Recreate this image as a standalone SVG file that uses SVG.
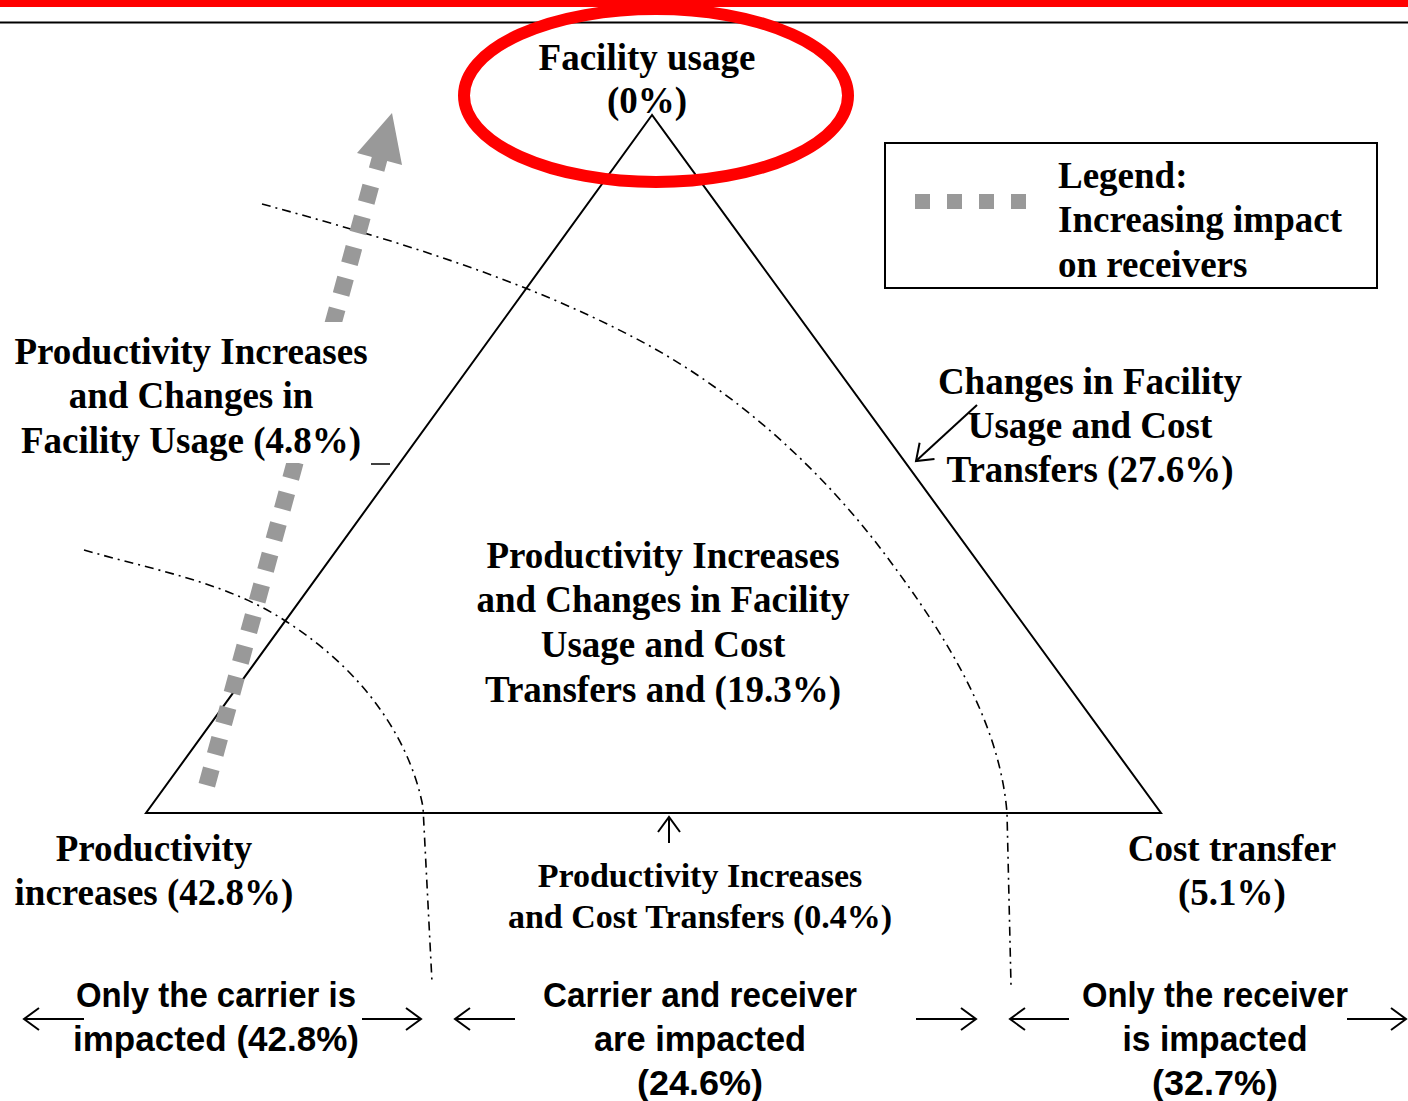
<svg xmlns="http://www.w3.org/2000/svg" width="1408" height="1101" viewBox="0 0 1408 1101">
<style>
.t{font-family:"Liberation Serif","Times New Roman",serif;font-weight:bold;font-size:37px;fill:#000;text-anchor:middle}
.tl{text-anchor:start}
.s{font-size:34px}
.b{font-family:"Liberation Sans",Arial,sans-serif;font-weight:bold;font-size:35px;fill:#000;text-anchor:middle}
.ln{stroke:#000;stroke-width:2;fill:none}
.dd{stroke:#000;stroke-width:1.6;fill:none;stroke-dasharray:9 5 2 5}
.ar{stroke:#000;stroke-width:2;fill:none;marker-end:url(#open)}
.gray{fill:#999}
</style>
<defs>
<marker id="open" markerUnits="userSpaceOnUse" markerWidth="24" markerHeight="28" refX="18" refY="14" orient="auto" overflow="visible">
<path d="M3,3 L18,14 L3,25" fill="none" stroke="#000" stroke-width="2"/>
</marker>
</defs>
<rect width="1408" height="1101" fill="#fff"/>
<rect x="0" y="0" width="1408" height="7" fill="#ff0000"/>
<line x1="0" y1="22.5" x2="1408" y2="22.5" stroke="#000" stroke-width="2"/>

<g id="triangle">
<polygon points="652,115 146,813 1161,813" class="ln"/>
</g>

<g id="boundaries">
<path class="dd" d="M262,204 C387,238 518,277 633,337 C732,388 820,467 887,557 C943,632 999.5,719 1007,813 L1011,985"/>
<path class="dd" d="M84,550 C153,570 227,582 287,622 C365,672 410,740 423,807 L432,982"/>
</g>

<g id="impact-arrow">
<line x1="206.8" y1="785.2" x2="370.8" y2="185.7" stroke="#999" stroke-width="17" stroke-dasharray="17 14.8"/>
<polygon class="gray" points="392,113 402,165 387.2,161.1 384.3,171.7 368.9,167.5 371.8,156.9 357,153"/>
</g>

<g id="facility-usage">
<text class="t" x="647" y="70">Facility usage</text>
<text class="t" x="647" y="113">(0%)</text>
<ellipse cx="656" cy="95.5" rx="192" ry="86.5" fill="none" stroke="#ff0000" stroke-width="12"/>
</g>

<g id="legend">
<rect x="885" y="143" width="492" height="145" fill="#fff" stroke="#000" stroke-width="2"/>
<rect class="gray" x="915" y="194" width="15" height="15"/>
<rect class="gray" x="947" y="194" width="15" height="15"/>
<rect class="gray" x="979" y="194" width="15" height="15"/>
<rect class="gray" x="1011" y="194" width="15" height="15"/>
<text class="t tl" x="1058" y="188">Legend:</text>
<text class="t tl" x="1058" y="232">Increasing impact</text>
<text class="t tl" x="1058" y="277">on receivers</text>
</g>

<g id="prod-facility">
<rect x="6" y="322" width="368" height="141" fill="#fff"/>
<text class="t" x="191" y="364">Productivity Increases</text>
<text class="t" x="191" y="408">and Changes in</text>
<text class="t" x="191" y="453">Facility Usage (4.8%)</text>
<line x1="371" y1="464" x2="390" y2="464" stroke="#000" stroke-width="1.5"/>
</g>

<g id="facility-cost">
<text class="t" x="1090" y="394">Changes in Facility</text>
<text class="t" x="1090" y="438">Usage and Cost</text>
<text class="t" x="1090" y="482">Transfers (27.6%)</text>
</g>

<g id="all-three">
<text class="t" x="663" y="568">Productivity Increases</text>
<text class="t" x="663" y="612">and Changes in Facility</text>
<text class="t" x="663" y="657">Usage and Cost</text>
<text class="t" x="663" y="702">Transfers and (19.3%)</text>
</g>

<g id="productivity">
<text class="t" x="154" y="861">Productivity</text>
<text class="t" x="154" y="905">increases (42.8%)</text>
</g>

<g id="cost-transfer">
<text class="t" x="1232" y="861">Cost transfer</text>
<text class="t" x="1232" y="905">(5.1%)</text>
</g>

<g id="prod-cost">
<text class="t s" x="700" y="887">Productivity Increases</text>
<text class="t s" x="700" y="928">and Cost Transfers (0.4%)</text>
</g>

<g id="carrier-only">
<text class="b" x="216" y="1007" textLength="280" lengthAdjust="spacingAndGlyphs">Only the carrier is</text>
<text class="b" x="216" y="1051" textLength="286" lengthAdjust="spacingAndGlyphs">impacted (42.8%)</text>
</g>

<g id="carrier-receiver">
<text class="b" x="700" y="1007" textLength="314" lengthAdjust="spacingAndGlyphs">Carrier and receiver</text>
<text class="b" x="700" y="1051" textLength="212" lengthAdjust="spacingAndGlyphs">are impacted</text>
<text class="b" x="700" y="1095" textLength="126" lengthAdjust="spacingAndGlyphs">(24.6%)</text>
</g>

<g id="receiver-only">
<text class="b" x="1215" y="1007" textLength="266" lengthAdjust="spacingAndGlyphs">Only the receiver</text>
<text class="b" x="1215" y="1051" textLength="185" lengthAdjust="spacingAndGlyphs">is impacted</text>
<text class="b" x="1215" y="1095" textLength="126" lengthAdjust="spacingAndGlyphs">(32.7%)</text>
</g>

<g id="connectors">
<line class="ar" x1="977" y1="405" x2="916" y2="461"/>
<line class="ar" x1="669" y1="843" x2="669" y2="817"/>
<line class="ar" x1="84" y1="1019" x2="24" y2="1019"/>
<line class="ar" x1="362" y1="1019" x2="421" y2="1019"/>
<line class="ar" x1="515" y1="1019" x2="455" y2="1019"/>
<line class="ar" x1="916" y1="1019" x2="976" y2="1019"/>
<line class="ar" x1="1069" y1="1019" x2="1010" y2="1019"/>
<line class="ar" x1="1347" y1="1019" x2="1406" y2="1019"/>
</g>
</svg>
